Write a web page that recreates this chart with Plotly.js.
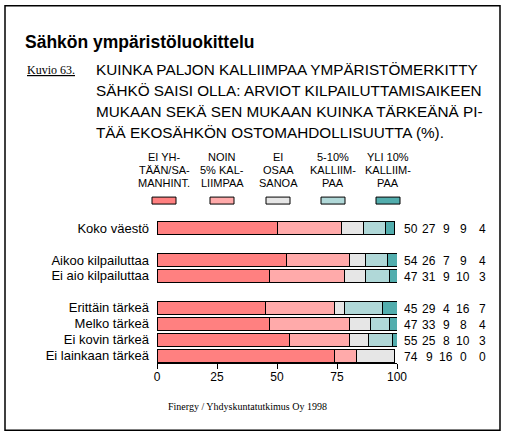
<!DOCTYPE html>
<html>
<head>
<meta charset="utf-8">
<script src="https://cdn.plot.ly/plotly-3.0.1.min.js"></script>
<style>
  html, body { margin: 0; padding: 0; background: #fff; }
  #chart { width: 506px; height: 437px; }
</style>
</head>
<body>
<div id="chart"></div>
<script>
// rows of the chart, top to bottom
const groups = ['Koko väestö', 'Aikoo kilpailuttaa', 'Ei aio kilpailuttaa',
  'Erittäin tärkeä', 'Melko tärkeä', 'Ei kovin tärkeä', 'Ei lainkaan tärkeä'];
// empty rows go after these indexes
const gapAfter = [0, 2];

const seriesNames = ['EI YH-<br>TÄÄN/SA-<br>MANHINT.', 'NOIN<br>5% KAL-<br>LIIMPAA',
  'EI<br>OSAA<br>SANOA', '5-10%<br>KALLIIM-<br>PAA', 'YLI 10%<br>KALLIIM-<br>PAA'];
const eiYhtaan   = [50, 54, 47, 45, 47, 55, 74];
const noin5      = [27, 26, 31, 29, 33, 25, 9];
const eiOsaa     = [9, 7, 9, 4, 9, 8, 16];
const kalliimpi  = [9, 9, 10, 16, 8, 10, 0];
const yli10      = [4, 4, 3, 7, 4, 3, 0];
const xTicks = [0, 25, 50, 75, 100];

const subtitleLines = ['KUINKA PALJON KALLIIMPAA YMPÄRISTÖMERKITTY',
  'SÄHKÖ SAISI OLLA: ARVIOT KILPAILUTTAMISAIKEEN',
  'MUKAAN SEKÄ SEN MUKAAN KUINKA TÄRKEÄNÄ PI-',
  'TÄÄ EKOSÄHKÖN OSTOMAHDOLLISUUTTA (%).'];

const seriesValues = [eiYhtaan, noin5, eiOsaa, kalliimpi, yli10];
const colors = ['#ff8080', '#ffaaaa', '#e6e6e6', '#b0d8d8', '#52adad'];

const sans = '"Liberation Sans", Arial, sans-serif';
const serif = '"Liberation Serif", "Times New Roman", serif';

// category order with blank spacer rows
const catOrder = [];
let blank = ' ';
groups.forEach(function (g, i) {
  catOrder.push(g);
  if (gapAfter.indexOf(i) >= 0) { catOrder.push(blank); blank += ' '; }
});

// plot area in pixels
const W = 506, H = 437;
const L = 157, R = 397, T = 220, B = 363.5;
function px(x) { return (x - L) / (R - L); }
function py(y) { return (B - y) / (B - T); }

const traces = seriesValues.map(function (vals, i) {
  return {
    type: 'bar',
    orientation: 'h',
    x: vals,
    y: groups,
    name: seriesNames[i],
    marker: { color: colors[i], line: { color: '#000', width: 1 } },
    hoverinfo: 'x+y'
  };
});

const annotations = [];
const shapes = [];

// subtitle block
annotations.push({
  xref: 'paper', yref: 'paper', x: px(25), y: py(69), xanchor: 'left', yanchor: 'middle',
  text: '<span style="text-decoration:underline">Kuvio 63.</span>',
  showarrow: false, font: { family: serif, size: 12, color: '#000' }
});
subtitleLines.forEach(function (s, i) {
  annotations.push({
    xref: 'paper', yref: 'paper', x: px(94), y: py(69 + i * 21), xanchor: 'left', yanchor: 'middle',
    text: s, showarrow: false, font: { family: sans, size: 15.3, color: '#000' }
  });
});

// legend: header text above a swatch
const legendX = [164, 222, 278, 333, 388];
seriesNames.forEach(function (n, i) {
  n.split('<br>').forEach(function (line, j) {
    annotations.push({
      xref: 'paper', yref: 'paper', x: px(legendX[i]), y: py(157 + j * 13), xanchor: 'center', yanchor: 'middle',
      text: line, showarrow: false, font: { family: sans, size: 11, color: '#000' }
    });
  });
  shapes.push({
    type: 'rect', xref: 'paper', yref: 'paper',
    x0: px(legendX[i] - 12), x1: px(legendX[i] + 12), y0: py(204), y1: py(197),
    fillcolor: colors[i], line: { color: '#000', width: 1 }
  });
});

// value columns on the right
const colX = [411, 429, 446, 463, 482];
groups.forEach(function (g, r) {
  seriesValues.forEach(function (vals, i) {
    annotations.push({
      xref: 'paper', yref: 'y', x: px(colX[i]), y: g, yshift: -1, xanchor: 'center', yanchor: 'middle',
      text: String(vals[r]), showarrow: false, font: { family: sans, size: 12, color: '#000' }
    });
  });
});

// source line
annotations.push({
  xref: 'paper', yref: 'paper', x: px(247), y: py(407), xanchor: 'center', yanchor: 'middle',
  text: 'Finergy / Yhdyskuntatutkimus Oy 1998', showarrow: false,
  font: { family: serif, size: 10, color: '#000' }
});

// outer frame
shapes.push({
  type: 'rect', xref: 'paper', yref: 'paper',
  x0: px(5), x1: px(500), y0: py(431), y1: py(5),
  line: { color: '#000', width: 1.5 }, fillcolor: 'rgba(0,0,0,0)'
});

const layout = {
  width: W, height: H,
  margin: { l: L, r: W - R, t: T, b: H - B, pad: 0 },
  paper_bgcolor: '#fff', plot_bgcolor: '#fff',
  barmode: 'stack', bargap: 0.2,
  showlegend: false,
  title: {
    text: 'Sähkön ympäristöluokittelu',
    x: 25 / W, xanchor: 'left', y: 1 - 42 / H, yanchor: 'middle',
    font: { family: sans, size: 17.5, color: '#000', weight: 'bold' }
  },
  xaxis: {
    range: [0, 100], tickvals: xTicks, ticktext: xTicks.map(String),
    showgrid: false, zeroline: false,
    showline: true, linecolor: '#000', linewidth: 1,
    ticks: 'outside', ticklen: 5, tickcolor: '#000', tickwidth: 1,
    ticklabelstandoff: -2,
    tickfont: { family: sans, size: 12, color: '#000' }
  },
  yaxis: {
    type: 'category', categoryorder: 'array', categoryarray: catOrder,
    tickmode: 'array', tickvals: groups, ticktext: groups,
    range: [catOrder.length - 0.55, -0.5],
    showgrid: false, zeroline: false, showline: false, ticks: '',
    ticklabelstandoff: 7,
    tickfont: { family: sans, size: 13, color: '#000' }
  },
  annotations: annotations,
  shapes: shapes
};

Plotly.newPlot('chart', traces, layout, { displayModeBar: false, staticPlot: true });
</script>
</body>
</html>
